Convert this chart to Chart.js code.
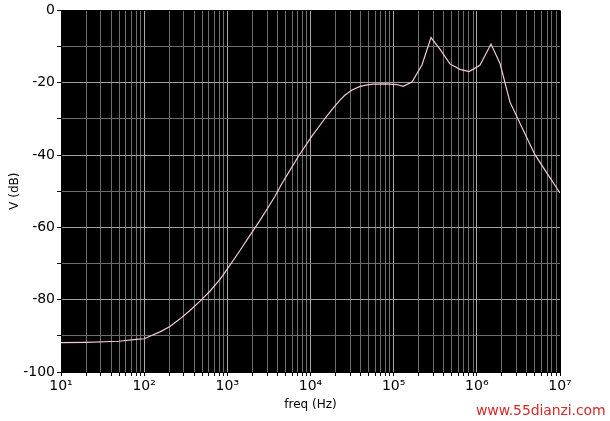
<!DOCTYPE html>
<html>
<head>
<meta charset="utf-8">
<script src="https://cdn.jsdelivr.net/npm/chart.js@4/dist/chart.umd.min.js"></script>
<style>
  html, body { margin: 0; padding: 0; background: #fff; }
  #wrap { position: relative; width: 610px; height: 421px; }
  #mark {
    position: absolute; left: 476px; top: 402px;
    font-family: "DejaVu Sans", sans-serif; font-size: 14px;
    color: #d42a2a; letter-spacing: -0.1px;
  }
</style>
</head>
<body>
<div id="wrap">
  <canvas id="bode" width="610" height="421"></canvas>
  <div id="mark">www.55dianzi.com</div>
</div>
<script>
// frequency response
const freqHz = [10, 20, 50, 80, 100, 117, 155, 204, 270, 355, 470, 620, 820, 1050, 1400, 1870, 2400,
  3000, 3740, 4500, 5400, 7130, 10300, 14900, 18000, 21600, 26000, 31600, 39500, 48000, 56600,
  80000, 110000, 130000,
  166000, 219000, 281000, 360000, 475000, 627000, 805000, 1090000,
  1480000, 1900000, 2500000, 3590000, 5000000, 6970000, 10000000];
const gainDb = [-91.9, -91.8, -91.5, -91.0, -90.8, -90.1, -88.9, -87.4, -85.3, -83.0, -80.4, -77.6, -74.3, -70.8, -66.6, -62.2, -58.5,
  -55.0, -51.4, -48.0, -45.0, -40.4, -34.9, -29.9, -27.5, -25.3, -23.4, -22.0, -21.0, -20.6, -20.4,
  -20.3, -20.5, -21.0,
  -19.8, -15.1, -7.5, -10.7, -14.8, -16.3, -16.9, -15.2,
  -9.3, -14.7, -25.3, -33.0, -39.9, -45.0, -50.5];

const decadeLabels = ['10¹', '10²', '10³', '10⁴', '10⁵', '10⁶', '10⁷'];
const yLabels = [0, -20, -40, -60, -80, -100];

// log grid: 1..9 in every decade
const xGrid = [];
for (let d = 1; d <= 7; d++) {
  for (let m = 1; m <= 9; m++) {
    if (d === 7 && m > 1) break;
    xGrid.push(m * Math.pow(10, d));
  }
}

const blackArea = {
  id: 'blackArea',
  beforeDraw(chart) {
    const a = chart.chartArea, c = chart.ctx;
    c.save();
    c.fillStyle = '#000';
    c.fillRect(a.left, a.top, a.right - a.left, a.bottom - a.top);
    c.restore();
  }
};

const ctx = document.getElementById('bode').getContext('2d');
new Chart(ctx, {
  type: 'scatter',
  data: {
    datasets: [{
      data: freqHz.map((f, i) => ({ x: f, y: gainDb[i] })),
      showLine: true,
      borderColor: '#f2c9dd',
      borderWidth: 1.2,
      pointRadius: 0,
      tension: 0
    }]
  },
  options: {
    responsive: false,
    animation: false,
    layout: { padding: { left: 0, right: 50, top: 8, bottom: 0 } },
    plugins: { legend: { display: false }, tooltip: { enabled: false } },
    scales: {
      x: {
        type: 'logarithmic',
        min: 10,
        max: 1e7,
        afterBuildTicks: s => { s.ticks = xGrid.map(v => ({ value: v })); },
        afterFit: s => { s.height = 49; },
        ticks: {
          autoSkip: false,
          maxRotation: 0,
          padding: 2,
          color: '#000',
          font: { family: 'DejaVu Sans', size: 14 },
          callback: v => {
            const e = Math.log10(v);
            return Math.abs(e - Math.round(e)) < 1e-9 ? decadeLabels[Math.round(e) - 1] : '';
          }
        },
        grid: {
          color: c => {
            const e = Math.log10(c.tick.value);
            if (c.index === 0 || c.index === xGrid.length - 1) return '#000';
            return Math.abs(e - Math.round(e)) < 1e-9 ? '#a8a8a8' : '#6e6e6e';
          },
          tickColor: '#000',
          tickLength: 4,
          lineWidth: 1
        },
        border: { color: '#000' },
        title: {
          display: true,
          text: 'freq (Hz)',
          color: '#000',
          font: { family: 'DejaVu Sans', size: 12 },
          padding: { top: 0, bottom: 9 }
        }
      },
      y: {
        min: -100,
        max: 0,
        afterFit: s => { s.width = 61; },
        ticks: {
          stepSize: 5,
          padding: 2,
          color: '#000',
          font: { family: 'DejaVu Sans', size: 14 },
          callback: v => yLabels.includes(v) ? String(v) : ''
        },
        grid: {
          color: c => (c.tick.value === 0 || c.tick.value === -100) ? '#000'
            : (c.tick.value % 20 === 0 ? '#a0a0a0' : '#6e6e6e'),
          tickColor: '#000',
          tickLength: 4,
          lineWidth: 1
        },
        border: { color: '#000' },
        title: {
          display: true,
          text: 'V (dB)',
          color: '#000',
          font: { family: 'DejaVu Sans', size: 12 },
          padding: { top: 8, bottom: 0 }
        }
      }
    }
  },
  plugins: [blackArea]
});
</script>
</body>
</html>
